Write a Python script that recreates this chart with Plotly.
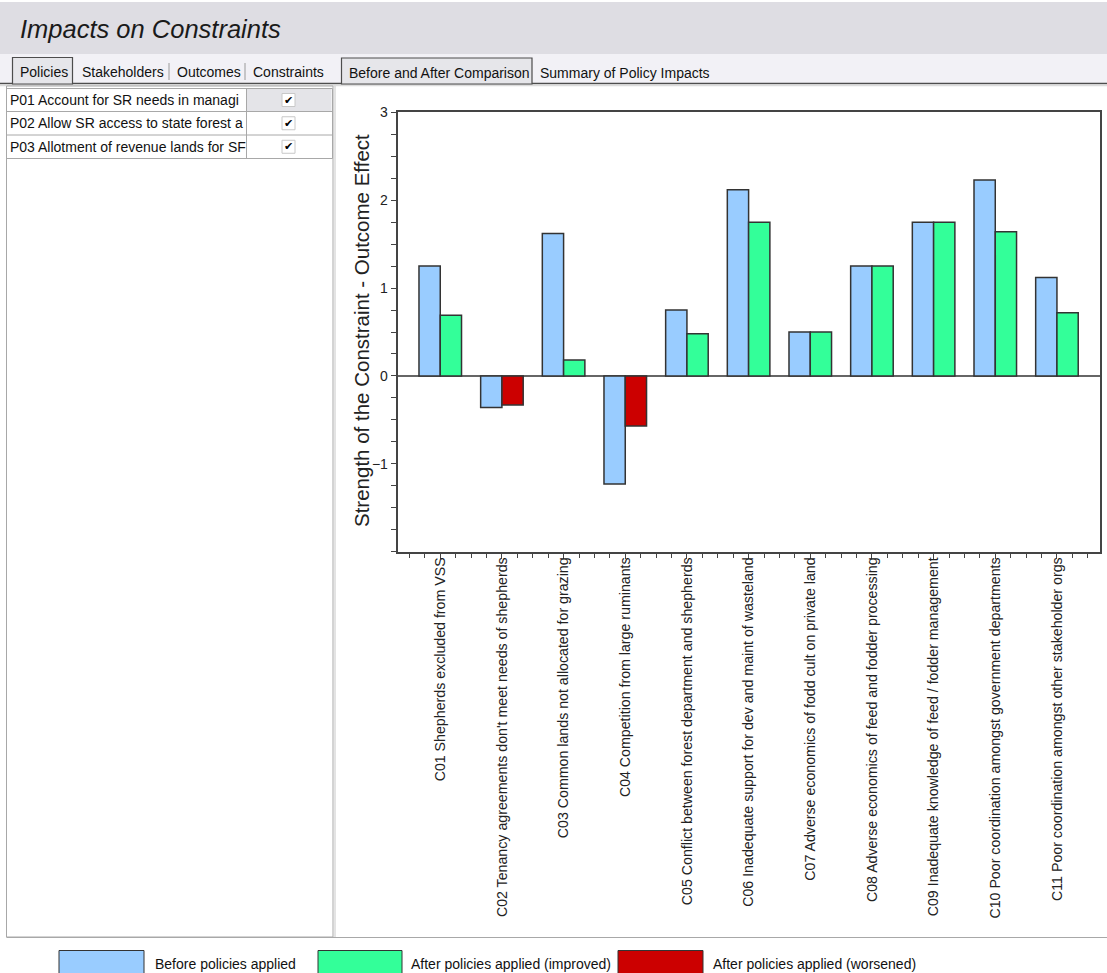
import plotly.graph_objects as go

# ---- data -------------------------------------------------------------
constraints = [
    "C01 Shepherds excluded from VSS",
    "C02 Tenancy agreements don't meet needs of shepherds",
    "C03 Common lands not allocated for grazing",
    "C04 Competition from large ruminants",
    "C05 Conflict between forest department and shepherds",
    "C06 Inadequate support for dev and maint of wasteland",
    "C07 Adverse economics of fodd cult on private land",
    "C08 Adverse economics of feed and fodder processing",
    "C09 Inadequate knowledge of feed / fodder management",
    "C10 Poor coordination amongst government departments",
    "C11 Poor coordination amongst other stakeholder orgs",
]
before_values = [1.25, -0.36, 1.62, -1.23, 0.75, 2.12, 0.50, 1.25, 1.75, 2.23, 1.12]
after_values = [0.69, -0.33, 0.18, -0.57, 0.48, 1.75, 0.50, 1.25, 1.75, 1.64, 0.72]
after_status = ["improved", "worsened", "improved", "worsened", "improved", "improved",
                "improved", "improved", "improved", "improved", "improved"]
y_tick_values = [-1, 0, 1, 2, 3]

policies = [
    "P01 Account for SR needs in managi",
    "P02 Allow SR access to state forest a",
    "P03 Allotment of revenue lands for SF",
]
left_tabs = ["Policies", "Stakeholders", "Outcomes", "Constraints"]
right_tabs = ["Before and After Comparison", "Summary of Policy Impacts"]
legend_labels = ["Before policies applied", "After policies applied (improved)",
                 "After policies applied (worsened)"]

# ---- styling ----------------------------------------------------------
W, H = 1107, 973
BLUE, GREEN, RED = "#99ccff", "#33ff99", "#cc0000"
OUTLINE = "#333333"
UI_FONT = "Liberation Sans"
UI_SIZE = 14
status_colors = {"improved": GREEN, "worsened": RED}


def X(px):
    return px / W


def Y(py):
    return 1 - py / H


positions = list(range(len(constraints)))
BAR_W = 0.345

fig = go.Figure()
fig.add_trace(go.Bar(
    x=positions, y=before_values, offset=-BAR_W, width=BAR_W,
    marker=dict(color=BLUE, line=dict(color=OUTLINE, width=1.5)),
    name=legend_labels[0], showlegend=False,
))
fig.add_trace(go.Bar(
    x=positions, y=after_values, offset=0, width=BAR_W,
    marker=dict(color=[status_colors[s] for s in after_status],
                line=dict(color=OUTLINE, width=1.5)),
    name="After policies applied", showlegend=False,
))

shapes = []
annotations = []


def rect(x0, y0, x1, y1, fill=None, line=None, lw=1, layer="below"):
    shapes.append(dict(
        type="rect", xref="paper", yref="paper",
        x0=X(x0), x1=X(x1), y0=Y(y1), y1=Y(y0),
        fillcolor=fill or "rgba(0,0,0,0)",
        line=dict(color=line or "rgba(0,0,0,0)", width=lw if line else 0),
        layer=layer,
    ))


def hline(x0, x1, y, color, lw=1):
    shapes.append(dict(type="line", xref="paper", yref="paper",
                       x0=X(x0), x1=X(x1), y0=Y(y), y1=Y(y),
                       line=dict(color=color, width=lw), layer="below"))


def vline(x, y0, y1, color, lw=1):
    shapes.append(dict(type="line", xref="paper", yref="paper",
                       x0=X(x), x1=X(x), y0=Y(y0), y1=Y(y1),
                       line=dict(color=color, width=lw), layer="below"))


def text(x, y, s, size=UI_SIZE, xanchor="left", color="#111111", family=UI_FONT, angle=0):
    annotations.append(dict(
        xref="paper", yref="paper", x=X(x), y=Y(y), text=s,
        showarrow=False, xanchor=xanchor, yanchor="middle", textangle=angle,
        font=dict(family=family, size=size, color=color),
    ))


# window header
rect(0, 2, W, 54, fill="#dedde3")
text(18, 29, "<i>Impacts on Constraints</i>", size=25.5, color="#1a1a1a")

# tab strip
rect(0, 54, W, 83.5, fill="#f2f1f6")
hline(0, W, 83.5, "#4d4d4d", 1.5)
hline(0, W, 85.5, "#dcdcdc", 1.5)

# left tab group
rect(12.5, 57.5, 72.5, 84, fill="#e6e6ea", line="#4d4d4d", lw=1.2)
left_tab_x = [18, 80, 175, 251]
for label, tx in zip(left_tabs, left_tab_x):
    text(tx, 72, label)
vline(169, 63, 80, "#9a9a9a")
vline(245, 63, 80, "#9a9a9a")

# right tab group
rect(341.5, 58, 532, 84, fill="#e6e6ea", line="#4d4d4d", lw=1.2)
text(347, 73, right_tabs[0])
text(538, 73, right_tabs[1])

# left panel with the policy table
rect(6.5, 86, 333, 937, fill="#ffffff", line="#a8a8a8", lw=1)
rect(247, 88.5, 331.5, 111.5, fill="#e4e4e8")
row_edges = [88.5, 111.5, 135, 158.5]
for ry in row_edges:
    hline(6.5, 332.5, ry, "#a8a8a8")
vline(246.5, 88.5, 158.5, "#a8a8a8")
vline(332.5, 88.5, 158.5, "#a8a8a8")
for i, p in enumerate(policies):
    cy = (row_edges[i] + row_edges[i + 1]) / 2
    text(8, cy, p)
    rect(282, cy - 6.5, 295, cy + 6.5, fill="#ffffff", line="#c8c8c8", lw=1)
    text(288.5, cy, "✔", size=11, xanchor="center", family="DejaVu Sans", color="#000000")

# chart panel frame
vline(335, 86, 937, "#c8c8c8")
hline(6.5, W, 937.5, "#a8a8a8", 1)

# legend strip
legend_boxes = [(59, 144, BLUE), (318, 402, GREEN), (618, 703, RED)]
legend_text_x = [153, 409, 711]
for (bx0, bx1, col), tx, lab in zip(legend_boxes, legend_text_x, legend_labels):
    rect(bx0, 950.5, bx1, 980, fill=col, line="#333333", lw=1)
    text(tx, 963.5, lab, size=UI_SIZE)

# y-axis title
text(361, 331, "Strength of the Constraint - Outcome Effect", size=20.5,
     xanchor="center", color="#222222", family="Liberation Sans", angle=-90)

axis_common = dict(
    showline=True, mirror=True, linecolor="#444444", linewidth=2,
    showgrid=False, ticks="outside", tickcolor="#444444", tickwidth=1,
    automargin=False,
)

fig.update_layout(
    width=W, height=H,
    margin=dict(l=0, r=0, t=0, b=0),
    paper_bgcolor="#ffffff", plot_bgcolor="#ffffff",
    barmode="overlay",
    template="none",
    showlegend=False,
    shapes=shapes,
    annotations=annotations,
    xaxis=dict(
        domain=[X(397.7), X(1099.5)],
        range=[-0.69, 10.69],
        tickmode="array", tickvals=positions, ticktext=constraints,
        tickangle=-90, ticklen=5, ticklabelstandoff=-7,
        tickfont=dict(family="Liberation Sans", size=14.2, color="#222222"),
        minor=dict(ticks="outside", dtick=0.25, tick0=0, ticklen=4,
                   tickcolor="#444444", showgrid=False),
        zeroline=False,
        **axis_common,
    ),
    yaxis=dict(
        domain=[Y(551.7), Y(112.3)],
        range=[-2, 3],
        tickmode="array", tickvals=y_tick_values, ticklen=5,
        tickfont=dict(family="Liberation Sans", size=14, color="#222222"),
        minor=dict(ticks="outside", dtick=0.25, tick0=0, ticklen=5,
                   tickcolor="#444444", showgrid=False),
        zeroline=True, zerolinecolor="#666666", zerolinewidth=2,
        **axis_common,
    ),
)

fig.write_html("out.html")
